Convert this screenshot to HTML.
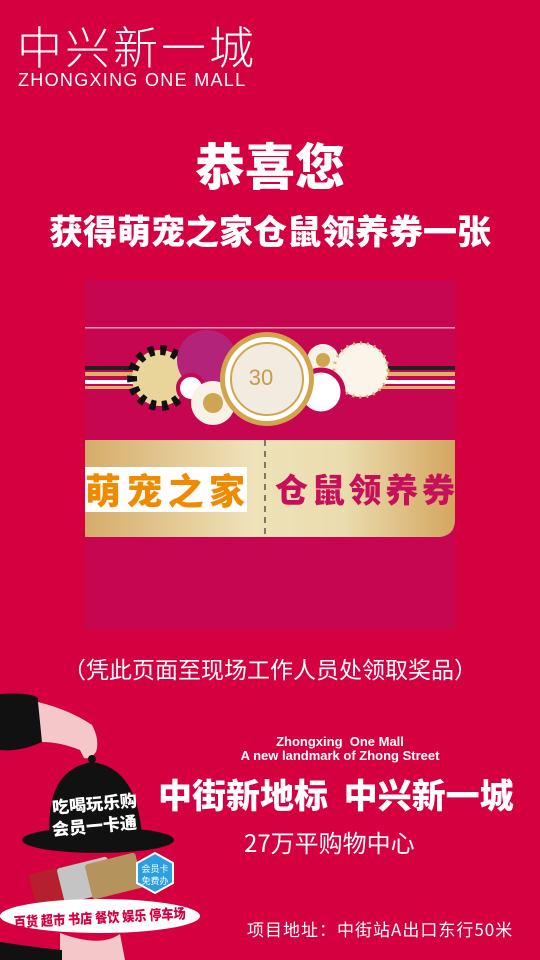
<!DOCTYPE html>
<html><head><meta charset="utf-8">
<style>
*{margin:0;padding:0;box-sizing:border-box}
body{width:540px;height:960px;overflow:hidden;background:#d5003f;font-family:"Liberation Sans","Noto Sans CJK SC",sans-serif;color:#fff;position:relative}
.a{position:absolute;white-space:nowrap}
</style></head><body>
<div class="a" style="left:17px;top:20px;font-size:45px;font-weight:300;letter-spacing:3px;line-height:50px;font-family:'Noto Sans CJK SC',sans-serif">中兴新一城</div>
<div class="a" style="left:18px;top:70px;font-size:18px;line-height:20px;letter-spacing:1.3px">ZHONGXING ONE MALL</div>
<div class="a" style="left:0;width:540px;text-align:center;top:134px;font-size:50px;font-weight:900;line-height:60px;font-family:'Noto Sans CJK SC',sans-serif">恭喜您</div>
<div class="a" style="left:0;width:540px;text-align:center;top:210px;font-size:34px;font-weight:900;line-height:40px;font-family:'Noto Sans CJK SC',sans-serif">获得萌宠之家仓鼠领养券一张</div>

<svg class="a" style="left:85px;top:280px" width="370" height="350" viewBox="0 0 370 350">
 <defs><linearGradient id="g" x1="0" x2="1"><stop offset="0" stop-color="#d6ac6a"/><stop offset="0.45" stop-color="#efe2b8"/><stop offset="0.7" stop-color="#eadcae"/><stop offset="1" stop-color="#d4a660"/></linearGradient></defs>
 <rect width="370" height="350" fill="#c60650"/>
 <rect y="47" width="370" height="1.5" fill="#f0a0b8"/>
 <rect y="86" width="370" height="4" fill="#222"/>
 <rect y="92" width="370" height="4" fill="#d9b36a"/>
 <rect y="100" width="370" height="4" fill="#fff"/>
 <rect y="106" width="370" height="3" fill="#d9b36a"/>
 <circle cx="75" cy="98" r="28" fill="#e9d59a" stroke="#111" stroke-width="10" stroke-dasharray="6 6"/>
 <circle cx="122" cy="80" r="30" fill="#b3237a"/>
 <circle cx="106" cy="108" r="13" fill="#fff" stroke="#c60650" stroke-width="4"/>
 <circle cx="128" cy="123" r="22" fill="#f7f1e6"/><circle cx="128" cy="123" r="10" fill="#cfa552"/>
 <circle cx="238" cy="80" r="16" fill="#f7f1e6"/><circle cx="238" cy="80" r="7" fill="#cfa552"/>
 <circle cx="276" cy="90" r="27" fill="#fbf4e8" stroke="#d9b36a" stroke-width="3" stroke-dasharray="2 5"/>
 <circle cx="236" cy="112" r="22" fill="#fff" stroke="#c60650" stroke-width="5"/>
 <circle cx="182" cy="99" r="47" fill="#d2a54d"/>
 <circle cx="182" cy="99" r="42" fill="#fff"/>
 <circle cx="182" cy="99" r="36" fill="#f1ebe0" stroke="#d2a54d" stroke-width="2"/>
 <text x="176" y="105" font-size="22" fill="#c79a45" text-anchor="middle" font-family="Liberation Sans">30</text>
 <path d="M0 160 H370 V240 Q370 255 355 257 H0 Z" fill="url(#g)"/>
 <line x1="180" y1="160" x2="180" y2="257" stroke="#333" stroke-width="1.2" stroke-dasharray="6 5"/>
 <rect x="0" y="187" width="162" height="45" fill="#fff"/>
 <text x="0" y="224" font-size="36" font-weight="900" fill="#f08a00" font-family="Noto Sans CJK SC" textLength="160">萌宠之家</text>
 <text x="190" y="222" font-size="33" font-weight="900" fill="#c8105a" font-family="Noto Sans CJK SC" textLength="180">仓鼠领养券</text>
</svg>

<div class="a" style="left:0;width:540px;text-align:center;top:653px;font-size:23px;line-height:30px;font-family:'Noto Sans CJK SC',sans-serif">（凭此页面至现场工作人员处领取奖品）</div>

<svg class="a" style="left:0;top:680px" width="210" height="280" viewBox="0 0 210 280">
 <path d="M0 14 Q30 12 38 18 L42 62 Q20 72 0 70 Z" fill="#111"/>
 <path d="M38 22 Q70 30 92 45 Q100 60 96 72 Q90 80 84 78 L80 70 Q60 62 42 62 Z" fill="#f4c8c8"/>
 <ellipse cx="92" cy="79" rx="4" ry="4" fill="#111"/>
 <path d="M50 160 Q44 90 92 82 Q138 88 142 158 Z" fill="#111"/>
 <ellipse cx="98" cy="160" rx="76" ry="13" fill="#111"/>
 <text x="95" y="130" font-size="17" font-weight="900" fill="#fff" text-anchor="middle" font-family="Noto Sans CJK SC" transform="rotate(-5 95 130)">吃喝玩乐购</text>
 <text x="95" y="152" font-size="17" font-weight="900" fill="#fff" text-anchor="middle" font-family="Noto Sans CJK SC" transform="rotate(-5 95 152)">会员一卡通</text>
 <rect x="32" y="188" width="52" height="36" rx="3" fill="#b51f2e" transform="rotate(-14 58 206)"/>
 <rect x="60" y="182" width="52" height="36" rx="3" fill="#c4c4c4" transform="rotate(-14 86 200)"/>
 <rect x="88" y="178" width="52" height="36" rx="3" fill="#b4935c" transform="rotate(-14 114 196)"/>
 <polygon points="155,173 173,183 173,203 155,213 137,203 137,183" fill="#2aa0e0" stroke="#fff" stroke-width="2"/>
 <text x="155" y="192" font-size="9" fill="#fff" text-anchor="middle" font-family="Noto Sans CJK SC">会员卡</text>
 <text x="155" y="204" font-size="9" fill="#fff" text-anchor="middle" font-family="Noto Sans CJK SC">免费办</text>
 <ellipse cx="100" cy="236" rx="100" ry="17" fill="#fff"/>
 <text x="14" y="243" font-size="14" font-weight="900" fill="#d5003f" font-family="Noto Sans CJK SC" textLength="172" lengthAdjust="spacingAndGlyphs" transform="rotate(-3 98 243)">百货 超市 书店 餐饮 娱乐 停车场</text>
 <path d="M60 253 Q100 268 120 254 L125 280 H60 Z" fill="#f4c8c8"/>
 <path d="M0 262 Q40 268 62 270 L62 280 H0 Z" fill="#111"/>
</svg>

<div class="a" style="left:225px;width:230px;text-align:center;top:735px;font-size:13px;font-weight:bold;line-height:14px">Zhongxing&nbsp; One Mall<br>A new landmark of Zhong Street</div>
<div class="a" style="left:158px;top:772px;font-size:34px;font-weight:900;line-height:44px;font-family:'Noto Sans CJK SC',sans-serif">中街新地标&nbsp;&nbsp;中兴新一城</div>
<div class="a" style="left:244px;top:826px;font-size:24px;line-height:32px;font-family:'Noto Sans CJK SC',sans-serif">27万平购物中心</div>
<div class="a" style="left:247px;top:917px;font-size:17px;line-height:24px;letter-spacing:1px;font-family:'Noto Sans CJK SC',sans-serif">项目地址：中街站A出口东行50米</div>
</body></html>
